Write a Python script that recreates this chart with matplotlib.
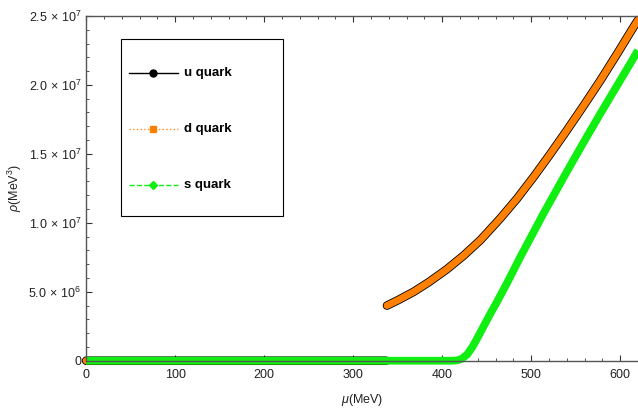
import numpy as np
import matplotlib.pyplot as plt
from matplotlib.patches import Rectangle
from matplotlib.ticker import MultipleLocator, FuncFormatter

plt.rcParams['font.family'] = ['Liberation Sans', 'DejaVu Sans']
plt.rcParams['mathtext.fontset'] = 'custom'
plt.rcParams['mathtext.rm'] = 'Liberation Sans'
plt.rcParams['mathtext.it'] = 'Liberation Sans:italic'

# density values (mu in MeV, rho in MeV^3)
mu_ud = [0, 100, 200, 300, 337, np.nan,
         338, 350, 368, 385, 405, 424, 443, 465, 484, 503, 521, 540, 559, 578, 597, 615, 620]
rho_u = [0, 0, 0, 0, 0, np.nan,
         4.0e6, 4.38e6, 5.0e6, 5.7e6, 6.62e6, 7.62e6, 8.75e6, 1.03e7, 1.175e7, 1.335e7,
         1.495e7, 1.67e7, 1.85e7, 2.035e7, 2.23e7, 2.42e7, 2.47e7]
rho_d = rho_u

mu_s = [0, 100, 200, 300, 400, 412, 417, 422, 428, 434, 440, 447, 454, 461, 473, 488, 500,
        514, 527, 540, 559, 578, 597, 615, 620]
rho_s = [0, 0, 0, 0, 0, 0, 3e4, 1.4e5, 4.5e5, 1.0e6, 1.7e6, 2.55e6, 3.4e6, 4.2e6, 5.65e6,
         7.55e6, 9.0e6, 1.07e7, 1.22e7, 1.37e7, 1.585e7, 1.795e7, 2.0e7, 2.195e7, 2.25e7]

labels = ['u quark', 'd quark', 's quark']
orange = '#ff7f00'
green = '#11ee11'

fig = plt.figure(figsize=(6.38, 4.09), dpi=100)
ax = fig.add_axes([0.135, 0.118, 0.865, 0.843])

ax.plot(mu_ud, rho_u, color='black', lw=6.2, solid_capstyle='round', clip_on=False)
ax.plot(mu_ud, rho_d, color=orange, lw=5.0, solid_capstyle='round', clip_on=False)
ax.plot(mu_s, rho_s, color=green, lw=5.6, solid_capstyle='butt', clip_on=False)

ax.set_xlim(0, 620)
ax.set_ylim(0, 2.5e7)

ax.xaxis.set_major_locator(MultipleLocator(100))
ax.xaxis.set_minor_locator(MultipleLocator(20))
ax.yaxis.set_major_locator(MultipleLocator(5e6))
ax.yaxis.set_minor_locator(MultipleLocator(1e6))


def yfmt(v, pos):
    if abs(v) < 1:
        return '0'
    if v < 0:
        return ''
    e = int(np.floor(np.log10(v)))
    return r'%.1f$\,\times\,$10$^{%d}$' % (v / 10 ** e, e)


ax.yaxis.set_major_formatter(FuncFormatter(yfmt))

for s in ['left', 'bottom', 'top']:
    ax.spines[s].set_color('#555555')
    ax.spines[s].set_linewidth(1.0)
ax.spines['right'].set_visible(False)
ax.tick_params(which='both', direction='in', top=True, right=False,
               color='#333333', labelsize=9, labelcolor='#222222')
ax.tick_params(which='major', length=4)
ax.tick_params(which='minor', length=2.5)
ax.tick_params(axis='x', pad=6)

ax.set_xlabel(r'$\mu$(MeV)', fontsize=9, color='#222222', labelpad=8)
ax.set_ylabel(r'$\rho$(MeV$^3$)', fontsize=9, color='#222222', labelpad=3)

# legend box drawn by hand (Mathematica-style spacing)
ax.add_patch(Rectangle((0.0627, 0.4205), 0.2935, 0.5116, transform=ax.transAxes,
                       fill=True, facecolor='white', edgecolor='black', lw=0.8, zorder=5))
styles = [('black', '-', 'o', 5, 1.0),
          (orange, ':', 's', 4, 0.9),
          (green, '--', 'D', 4.5, 1.0)]
for yy, lab, (c, ls, mk, ms, al) in zip([0.8352, 0.6720, 0.5095], labels, styles):
    ax.plot([0.0777, 0.166], [yy, yy], color=c, ls=ls, lw=1, alpha=al,
            transform=ax.transAxes, zorder=6, clip_on=False)
    ax.plot([0.1207], [yy], color=c, marker=mk, ms=ms, ls='none',
            transform=ax.transAxes, zorder=7, clip_on=False)
    ax.text(0.1774, yy, lab, transform=ax.transAxes, fontsize=9.5, fontweight='bold',
            va='center', ha='left', zorder=7)

fig.savefig('out.png', dpi=100)
